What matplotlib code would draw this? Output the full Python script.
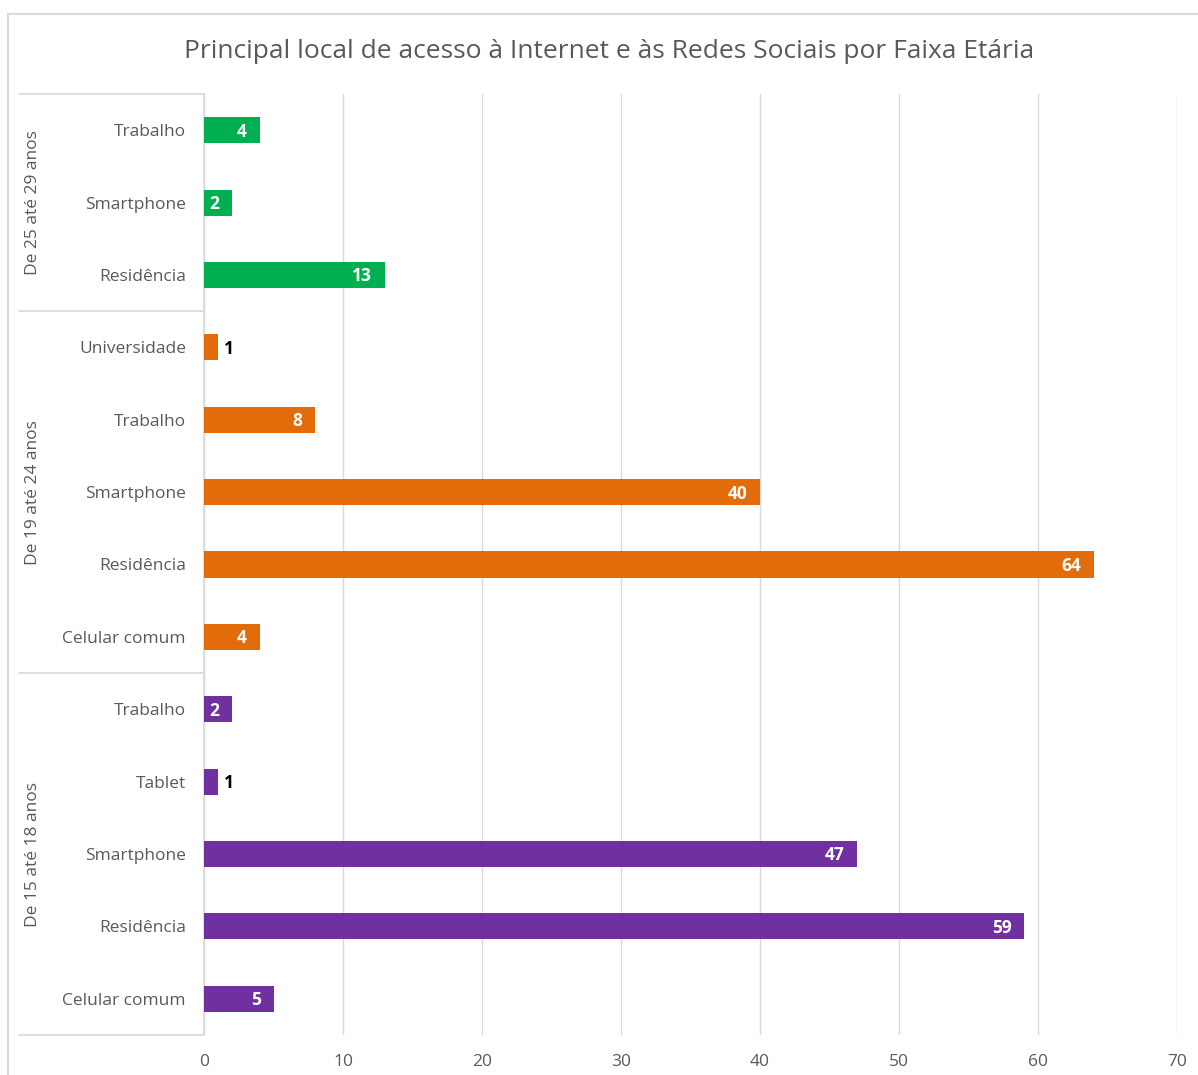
import numpy as np
import matplotlib.pyplot as plt
from matplotlib.patches import Rectangle

# Respostas por faixa etaria (de baixo para cima no grafico)
grupos = ['De 15 até 18 anos', 'De 19 até 24 anos', 'De 25 até 29 anos']
locais_15_18 = ['Celular comum', 'Residência', 'Smartphone', 'Tablet', 'Trabalho']
valores_15_18 = [5, 59, 47, 1, 2]
locais_19_24 = ['Celular comum', 'Residência', 'Smartphone', 'Trabalho', 'Universidade']
valores_19_24 = [4, 64, 40, 8, 1]
locais_25_29 = ['Residência', 'Smartphone', 'Trabalho']
valores_25_29 = [13, 2, 4]
cores = ['#7030A0', '#E36C0A', '#00B050']
x_ticks = [0, 10, 20, 30, 40, 50, 60, 70]

plt.rcParams['font.family'] = ['Open Sans', 'DejaVu Sans']
texto = '#595959'
linha = '#D9D9D9'

fig = plt.figure(figsize=(11.98, 10.75), dpi=100)
ax = fig.add_axes([204 / 1198, 1 - 1035 / 1075, 973 / 1198, 941 / 1075])

# borda externa do grafico
fig.patches.append(Rectangle((8 / 1198, -0.1), 1.2, 1 - 14 / 1075 + 0.1,
                             transform=fig.transFigure, fill=False,
                             edgecolor=linha, linewidth=1.5))

dados = [(locais_15_18, valores_15_18), (locais_19_24, valores_19_24),
         (locais_25_29, valores_25_29)]

labels = []
pos = 0
limites = [-0.5]
centros = []
for (locais, valores), cor in zip(dados, cores):
    ys = np.arange(pos, pos + len(locais))
    ax.barh(ys, valores, height=0.36, color=cor, zorder=3)
    for y, v in zip(ys, valores):
        if v >= 2:
            ax.annotate(str(v), (v, y), xytext=(-9, -1), textcoords='offset points',
                        ha='right', va='center', color='white', fontsize=12.5,
                        fontweight='bold', zorder=4)
        else:
            ax.annotate(str(v), (v, y), xytext=(4, -1), textcoords='offset points',
                        ha='left', va='center', color='black', fontsize=12.5,
                        fontweight='bold', zorder=4)
    labels += locais
    centros.append(pos + (len(locais) - 1) / 2)
    pos += len(locais)
    limites.append(pos - 0.5)

ax.set_ylim(-0.5, pos - 0.5)
ax.set_xlim(0, 70)
ax.set_yticks(np.arange(pos))
ax.set_yticklabels(labels, fontsize=12.5, color=texto)
ax.set_xticks(x_ticks)
ax.set_xticklabels([str(t) for t in x_ticks], fontsize=12.5, color=texto)
ax.tick_params(axis='y', length=0, pad=13)
ax.tick_params(axis='x', length=0, pad=14)

ax.grid(axis='x', color=linha, linewidth=1, zorder=0)
for s in ['top', 'right', 'bottom']:
    ax.spines[s].set_visible(False)
ax.spines['left'].set_color(linha)
ax.spines['left'].set_linewidth(1.2)

# separadores de grupo e rotulos das faixas etarias
trans = ax.get_yaxis_transform()
x0 = (19 - 204) / 973
for lim in limites:
    ax.plot([x0, 0], [lim, lim], transform=trans, color=linha, linewidth=1.2,
            clip_on=False)
for c, g in zip(centros, grupos):
    ax.text((33 - 204) / 973, c, g, transform=trans, rotation=90, ha='center',
            va='center', fontsize=12.5, color=texto)

fig.text(609 / 1198, 1 - 52 / 1075, 'Principal local de acesso à Internet e às Redes Sociais por Faixa Etária',
         ha='center', va='center', fontsize=19, color=texto)

fig.savefig('out.png', dpi=100)
